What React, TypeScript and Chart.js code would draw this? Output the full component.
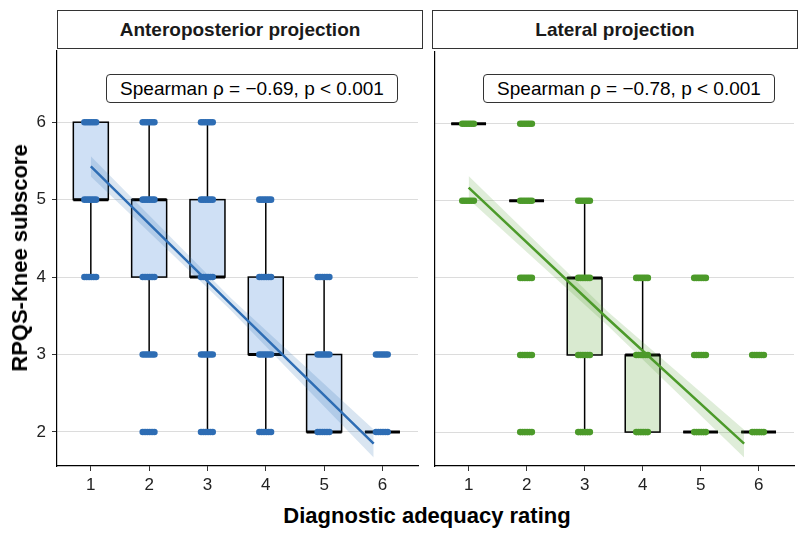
import React, { useEffect, useRef } from "react";
import { Chart, registerables } from "chart.js";
Chart.register(...registerables);

const categories = [1, 2, 3, 4, 5, 6];
const yTicks = [2, 3, 4, 5, 6];
// box stats per category: [whiskerLow, q1, median, q3, whiskerHigh]
const apBoxes = [[4, 5, 5, 6, 6], [3, 4, 5, 5, 6], [2, 4, 4, 5, 6], [2, 3, 3, 4, 5], [2, 2, 2, 3, 4], [2, 2, 2, 2, 2]];
const latBoxes = [[6, 6, 6, 6, 6], [5, 5, 5, 5, 5], [2, 3, 4, 4, 5], [2, 2, 3, 3, 4], [2, 2, 2, 2, 2], [2, 2, 2, 2, 2]];
// observed score values per category
const apValues = [[4, 5, 6], [2, 3, 4, 5, 6], [2, 3, 4, 5, 6], [2, 3, 4, 5], [2, 3, 4], [2, 3]];
const latValues = [[5, 6], [2, 3, 4, 5, 6], [2, 3, 4, 5], [2, 3, 4], [2, 3, 4], [2, 3]];
const jitter = [-0.11, -0.07, -0.03, 0.01, 0.05, 0.09];
// regression fit and confidence band
const apFitX = [1, 3.4, 5.85];
const apFit = [5.43, 3.65, 1.85];
const apLo = [5.3, 3.57, 1.67];
const apHi = [5.56, 3.73, 2.03];
const latFitX = [1, 3.4, 5.75];
const latFit = [5.17, 3.47, 1.85];
const latLo = [5.02, 3.38, 1.67];
const latHi = [5.32, 3.56, 2.03];

const FONT = "'Liberation Sans', Arial, sans-serif";

function Panel(props: { boxes: number[][]; values: number[][]; fitX: number[]; fit: number[]; lo: number[]; hi: number[]; color: string; fill: string; band: string; showY: boolean }) {
  const ref = useRef<HTMLCanvasElement>(null);
  useEffect(() => {
    const { boxes, values, fitX, fit, lo, hi, color, fill, band, showY } = props;
    const pts: { x: number; y: number }[] = [];
    values.forEach((vs, i) => vs.forEach((v) => jitter.forEach((j) => pts.push({ x: categories[i] + j, y: v }))));
    const boxPlugin = {
      id: "boxes",
      beforeDatasetsDraw(chart: any) {
        const { ctx, scales, chartArea } = chart;
        const xs = scales.x, ys = scales.y;
        ctx.save();
        ctx.beginPath();
        ctx.rect(chartArea.left, chartArea.top, chartArea.right - chartArea.left, chartArea.bottom - chartArea.top);
        ctx.clip();
        boxes.forEach((b, i) => {
          const c = categories[i];
          const xl = xs.getPixelForValue(c - 0.3), xr = xs.getPixelForValue(c + 0.3), xc = xs.getPixelForValue(c);
          const [wl, q1, md, q3, wh] = b.map((v) => ys.getPixelForValue(v));
          ctx.strokeStyle = "#000";
          ctx.lineWidth = 1.5;
          ctx.beginPath();
          ctx.moveTo(xc, wh); ctx.lineTo(xc, q3);
          ctx.moveTo(xc, q1); ctx.lineTo(xc, wl);
          ctx.stroke();
          ctx.fillStyle = fill;
          ctx.fillRect(xl, q3, xr - xl, q1 - q3);
          ctx.strokeRect(xl, q3, xr - xl, q1 - q3);
          ctx.lineWidth = 3;
          ctx.beginPath();
          ctx.moveTo(xl, md); ctx.lineTo(xr, md);
          ctx.stroke();
        });
        ctx.restore();
      },
    };
    const chart = new Chart(ref.current!, {
      type: "scatter",
      data: {
        datasets: [
          { type: "line", data: fitX.map((x, i) => ({ x, y: fit[i] })), borderColor: color, borderWidth: 2.5, pointRadius: 0 } as any,
          { data: pts, backgroundColor: color, borderColor: color, pointRadius: 3.3, borderWidth: 0 },
          { type: "line", data: fitX.map((x, i) => ({ x, y: hi[i] })), borderColor: "transparent", pointRadius: 0, fill: "+1", backgroundColor: band } as any,
          { type: "line", data: fitX.map((x, i) => ({ x, y: lo[i] })), borderColor: "transparent", pointRadius: 0 } as any,
        ],
      },
      options: {
        animation: false,
        responsive: false,
        layout: { padding: 0 },
        plugins: { legend: { display: false }, tooltip: { enabled: false } },
        scales: {
          x: {
            type: "linear", min: 0.42, max: 6.61,
            afterBuildTicks: (s: any) => { s.ticks = categories.map((v) => ({ value: v })); },
            afterFit: (s: any) => { s.height = 34; },
            grid: { drawOnChartArea: false, tickLength: 5, tickColor: "#333" },
            border: { color: "#000", width: 1.2 },
            ticks: { color: "#222", font: { family: FONT, size: 17 }, padding: 4 },
          },
          y: {
            type: "linear", min: 1.56, max: 6.93,
            afterBuildTicks: (s: any) => { s.ticks = yTicks.map((v) => ({ value: v })); },
            afterFit: (s: any) => { s.width = showY ? 57 : 1; },
            grid: { color: "#dcdcdc", tickLength: showY ? 5 : 0, tickColor: "#333" },
            border: { color: "#000", width: 1.2 },
            ticks: { display: showY, color: "#222", font: { family: FONT, size: 17 }, padding: 6 },
          },
        },
      },
      plugins: [boxPlugin],
    } as any);
    return () => chart.destroy();
  }, []);
  const shift = props.showY ? 14 : 0;
  return <canvas ref={ref} width={props.showY ? 422 : 367} height={452 + shift} style={{ position: "absolute", left: props.showY ? 0 : 431, top: 48 - shift }} />;
}

const strip: React.CSSProperties = { position: "absolute", top: 10, height: 37, width: 364, border: "1px solid #333", display: "flex", alignItems: "center", justifyContent: "center", fontFamily: FONT, fontWeight: "bold", fontSize: 19, color: "#1a1a1a", background: "#fff" };
const note: React.CSSProperties = { position: "absolute", top: 74, height: 27, border: "1px solid #333", borderRadius: 4, display: "flex", alignItems: "center", justifyContent: "center", fontFamily: FONT, fontSize: 19, color: "#000", background: "#fff", whiteSpace: "nowrap", zIndex: 2 };

export default function App() {
  return (
    <div style={{ position: "fixed", left: 0, top: 0, width: 809, height: 536, background: "#fff" }}>
      <Panel boxes={apBoxes} values={apValues} fitX={apFitX} fit={apFit} lo={apLo} hi={apHi} color="#2E6DB4" fill="#cfe0f5" band="rgba(46,109,180,0.18)" showY={true} />
      <Panel boxes={latBoxes} values={latValues} fitX={latFitX} fit={latFit} lo={latLo} hi={latHi} color="#4C9A2A" fill="#d9ead0" band="rgba(76,154,42,0.18)" showY={false} />
      <div style={{ ...strip, left: 57 }}>Anteroposterior projection</div>
      <div style={{ ...strip, left: 432 }}>Lateral projection</div>
      <div style={{ ...note, left: 106, width: 290 }}>Spearman ρ = −0.69, p &lt; 0.001</div>
      <div style={{ ...note, left: 483, width: 290 }}>Spearman ρ = −0.78, p &lt; 0.001</div>
      <div style={{ position: "absolute", left: 427, top: 516, transform: "translate(-50%,-50%)", fontFamily: FONT, fontWeight: "bold", fontSize: 22, whiteSpace: "nowrap" }}>Diagnostic adequacy rating</div>
      <div style={{ position: "absolute", left: 20, top: 258, transform: "translate(-50%,-50%) rotate(-90deg)", fontFamily: FONT, fontWeight: "bold", fontSize: 22, whiteSpace: "nowrap" }}>RPQS-Knee subscore</div>
    </div>
  );
}
